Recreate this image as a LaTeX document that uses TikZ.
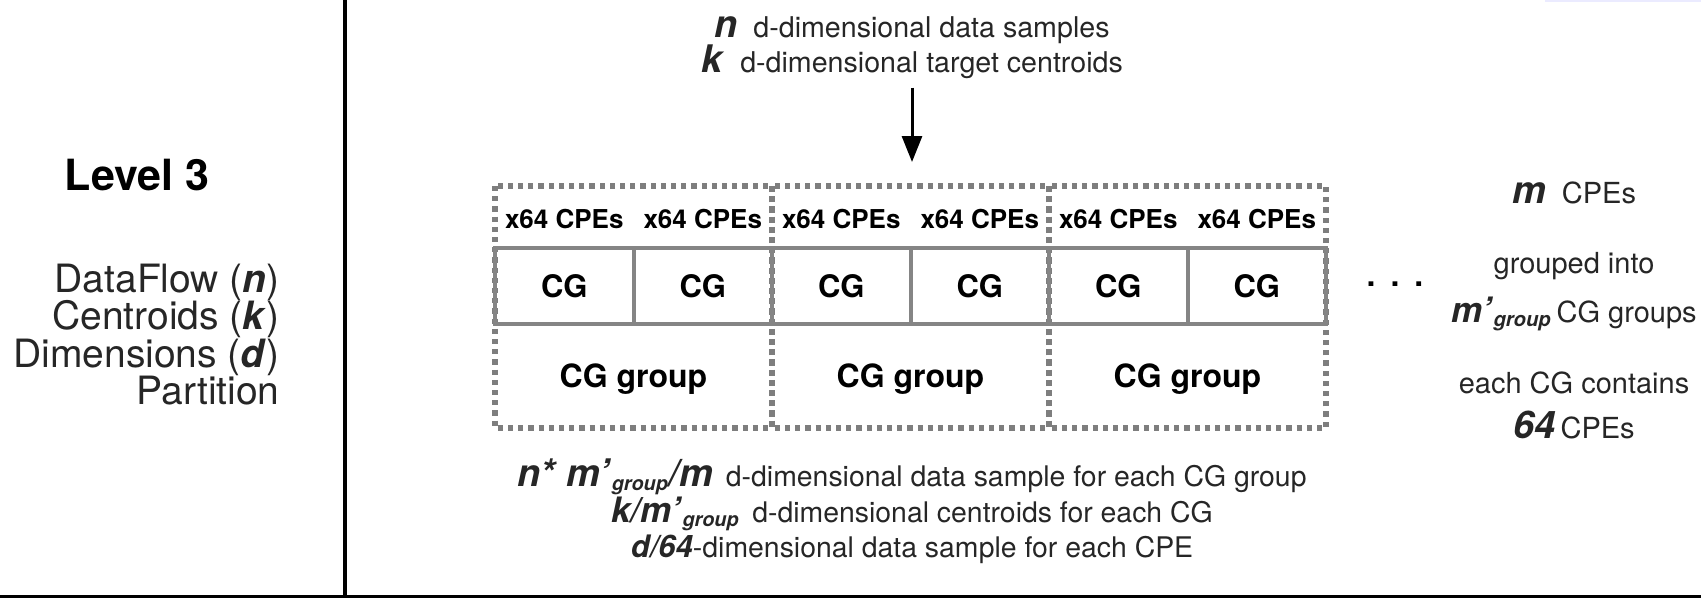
\documentclass[tikz,border=0pt]{standalone}
\usepackage{fontspec}
\setmainfont{TeX Gyre Heros}
\usetikzlibrary{arrows.meta,positioning}

\definecolor{boxgray}{HTML}{858585}
\definecolor{dashgray}{HTML}{7E7E7E}
\definecolor{inkgray}{HTML}{262626}

\newcommand{\bv}[1]{\textbf{\textit{#1}}}
\newcommand{\bigv}[1]{{\fontsize{19}{20}\selectfont\bv{#1}}}
\newcommand{\midv}[1]{{\fontsize{17.5}{20}\selectfont\bv{#1}}}
\newcommand{\grp}{\textsubscript{\bv{group}}}

\tikzset{
  txt/.style={inner sep=0pt, anchor=base, text=inkgray, font=\fontsize{14.2}{16}\selectfont},
  side/.style={inner sep=0pt, anchor=base east, text=inkgray, font=\fontsize{19.5}{22}\selectfont},
  cell/.style={draw=boxgray, line width=2pt, minimum width=69.25pt, minimum height=38pt,
    inner sep=0pt, font=\bfseries\fontsize{15.5}{17}\selectfont},
  cpes/.style={inner sep=0pt, anchor=base, font=\bfseries\fontsize{13}{15}\selectfont},
  grplbl/.style={inner sep=0pt, anchor=base, font=\bfseries\fontsize{16}{18}\selectfont},
  grpbox/.style={draw=dashgray, line width=2.6pt, dash pattern=on 2.6pt off 2.5pt},
  flow/.style={-{Triangle[length=13pt,width=10pt]}, line width=1.5pt}
}

\begin{document}
\begin{tikzpicture}[x=0.5pt,y=-0.5pt]
\useasboundingbox (0,0) rectangle (1701,599);
\fill[blue!8] (1545,0) rectangle (1701,2);

% frame lines
\draw[line width=2pt] (345,0) -- (345,596);
\draw[line width=1.5pt] (0,596) -- (1701,596);

% left column
\node[inner sep=0pt, anchor=base, font=\bfseries\fontsize{21.5}{24}\selectfont] (level) at (137,190) {Level 3};
\node[side] (flowlbl) at (280,292) {DataFlow (\bv{n})};
\node[side] (centlbl) at (280,329.5) {Centroids (\bv{k})};
\node[side] (dimlbl) at (280,367) {Dimensions (\bv{d})};
\node[side] (partlbl) at (280,404.5) {Partition};

% input
\node[txt, font=\fontsize{14.3}{16}\selectfont] (top1) at (912,38) {\bigv{n}\; d-dimensional data samples};
\node[txt, font=\fontsize{14.3}{16}\selectfont] (top2) at (912,73) {\bigv{k}\; d-dimensional target centroids};
\coordinate (tip) at (912,162);
\draw[flow] ([yshift=-4pt]top2.south) -- (tip);

% CG groups
\foreach \g in {0,1,2}{
  \draw[grpbox] (495+277*\g,186) rectangle (772+277*\g,428);
  \node[grplbl] (grp\g) at (633.5+277*\g,387) {CG group};
}
\foreach \i in {1,...,6}{
  \node[cell] (cg\i) at (495+138.5*\i-69.25,286) {CG};
  \node[cpes] (cpe\i) at (495+138.5*\i-69.25,228) {x64 CPEs};
}
\node[inner sep=0pt, font=\bfseries\fontsize{16}{16}\selectfont] (dots) at (1395,284) {.\hspace{7.5pt}.\hspace{7.5pt}.};

% right column
\node[txt, font=\fontsize{14.5}{16}\selectfont] (mcpe) at (1574,203) {\bigv{m}\; CPEs};
\node[txt, font=\fontsize{14.5}{16}\selectfont] (into) at (1574,273) {grouped into};
\node[txt, font=\fontsize{14.5}{16}\selectfont] (mgrp) at (1574,322) {\midv{m’}\grp\,CG groups};
\node[txt, font=\fontsize{14.5}{16}\selectfont] (each) at (1574,393) {each CG contains};
\node[txt, font=\fontsize{14.5}{16}\selectfont] (sixty) at (1574,438) {\bigv{64}\,CPEs};

% partition results
\node[txt] (out1) at (912,486) {\bigv{n* m’}\grp\bigv{/m}\, d-dimensional data sample for each CG group};
\node[txt] (out2) at (912,522) {\midv{k/m’}\grp\, d-dimensional centroids for each CG};
\node[txt] (out3) at (912,557) {{\fontsize{15.5}{16}\selectfont\bv{d/64}}-dimensional data sample for each CPE};
\end{tikzpicture}
\end{document}
